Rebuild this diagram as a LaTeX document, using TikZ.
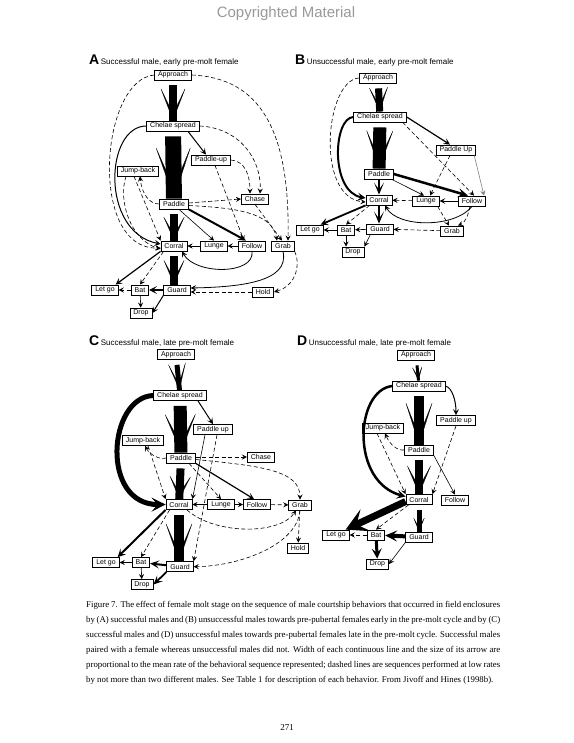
\documentclass[tikz,border=0pt]{standalone}
\usepackage{fontspec}
\setmainfont{Liberation Serif}
\setsansfont{Liberation Sans}
\usepackage{tikz}
\usetikzlibrary{arrows.meta, positioning, calc}
\newcommand\boxfont{\sffamily\fontsize{7}{8}\selectfont}
\newcommand\paneltitle[2]{{\sffamily\bfseries\fontsize{14}{14}\selectfont #1}\hspace{1.5pt}{\sffamily\fontsize{8}{9}\selectfont #2}}
\newcommand\capline[1]{\makebox[414pt][s]{#1}}
\tikzset{
  bx/.style={draw, line width=0.8pt, fill=white, font=\boxfont, inner xsep=3.5pt, inner ysep=1pt, minimum height=10pt},
  ln/.style={line width=0.6pt, -{Stealth[length=4pt 2, width=4pt 2, inset=1.5pt 1]}},
  md/.style={ln, line width=#1},
  md/.default=1pt,
  dl/.style={ln, dash pattern=on 4pt off 2.5pt},
  bar/.style n args={4}{line width=#1, -{Stealth[length=#2, width=#3, inset=#4]}},
  big/.style n args={4}{line width=#1, shorten <=5pt, postaction={draw, line width=0.2pt, -{Stealth[length=#2, width=#3, inset=#4]}}},
  capl/.style={anchor=base west, inner sep=0, font=\fontsize{8.8}{10}\selectfont},
}
\begin{document}
\begin{tikzpicture}[x=1pt, y=-1pt]
  \fill[white] (0,0) rectangle (573,743);
  \useasboundingbox (0,0) rectangle (573,743);

  \node[font=\sffamily\fontsize{15}{16}\selectfont, text=black!40] (hdr) at (286,14) {Copyrighted Material};

  % ---------- A ----------
  \node[anchor=base west, inner sep=0] (tita) at (89,65) {\paneltitle{A}{Successful male, early pre-molt female}};
  \node[bx] (aapp) at (173,75) {Approach};
  \node[bx] (ache) at (173,126) {Chelae spread};
  \node[bx] (apup) at (211,160) {Paddle-up};
  \node[bx] (ajmp) at (138,171) {Jump-back};
  \node[bx] (apad) at (174,204) {Paddle};
  \node[bx] (acha) at (255,199) {Chase};
  \node[bx] (acor) at (174,246) {Corral};
  \node[bx] (alun) at (214,246) {Lunge};
  \node[bx] (afol) at (252,246) {Follow};
  \node[bx] (agrb) at (283,246) {Grab};
  \node[bx] (alet) at (105,290) {Let go};
  \node[bx] (abat) at (140,290) {Bat};
  \node[bx] (agrd) at (177,290) {Guard};
  \node[bx] (ahld) at (263,292) {Hold};
  \node[bx] (adrp) at (141,313) {Drop};

  \draw[big={8pt}{34pt}{26pt}{27pt}] (aapp) -- (ache);
  \draw[big={16pt}{53pt}{36pt}{42pt}] (ache) -- (apad);
  \draw[big={8pt}{25pt}{22pt}{19pt}] (apad) -- (acor);
  \draw[big={8pt}{26pt}{22pt}{20pt}] (acor) -- (acor |- agrd.north);

  \draw[dl] (aapp.west) .. controls (100,80) and (88,250) .. ([yshift=-2pt]acor.west);
  \draw[md] (ache.west) .. controls (105,126) and (100,232) .. ([yshift=2pt]acor.west);
  \draw[dl] ([xshift=-12pt]ajmp.south) .. controls (118,200) and (130,240) .. ([yshift=-3pt]acor.west);
  \draw[dl] ([xshift=-4pt]ajmp.south) -- (acor.north west);
  \draw[dl] (apad.west) .. controls (150,204) and (142,195) .. ([xshift=2pt]ajmp.south);

  \draw[dl] (aapp.east) .. controls (260,78) and (290,130) .. ([xshift=5pt]agrb.north);
  \draw[dl] (ache.east) .. controls (240,128) and (262,160) .. ([xshift=5pt]acha.north);
  \draw[md] ([xshift=15pt]ache.south) -- ([xshift=-5pt]apup.north);
  \draw[dl] (apup.east) .. controls (245,161) and (250,175) .. ([xshift=-5pt]acha.north);
  \draw[dl] ([xshift=4pt]apup.south) -- ([xshift=-8pt]afol.north);
  \draw[dl] ([yshift=1pt]apad.east) -- (acha.west);
  \draw[dl] ([yshift=-1.5pt]apad.east) .. controls (235,208) and (272,212) .. ([xshift=-6pt]agrb.north);
  \draw[dl] (acha.south) -- ([xshift=-1pt]agrb.north);
  \draw[ln] ([xshift=5pt]apad.south) -- (alun.north);
  \draw[bar={2pt}{8pt}{7pt}{3pt}] (apad.south east) -- ([xshift=-6pt]afol.north);
  \draw[ln] (afol) -- (alun);
  \draw[ln] (alun) -- (acor);
  \draw[md=0.8pt] (afol.south) .. controls (255,275) and (195,275) .. ([xshift=8pt]acor.south);
  \draw[md=0.8pt] (agrb.south) .. controls (290,282) and (240,287) .. ([yshift=2pt]agrd.east);
  \draw[dl] (ahld) -- ([yshift=-2pt]agrd.east);
  \draw[dl] (agrb.south east) .. controls (300,262) and (298,285) .. (ahld.east);

  \draw[md=1.2pt] (acor.south west) -- ([xshift=-3pt]alet.north east);
  \draw[dl] ([xshift=3pt]acor.south west) -- (abat.north);
  \draw[bar={1.5pt}{8pt}{8pt}{4pt}] (agrd) -- (abat);
  \draw[dl] (abat) -- (alet);
  \draw[ln] (abat) -- (adrp);
  \draw[md] (agrd.south west) -- (adrp.east);

  % ---------- B ----------
  \node[anchor=base west, inner sep=0] (titb) at (295,65) {\paneltitle{B}{Unsuccessful male, early pre-molt female}};
  \node[bx] (bapp) at (378,78) {Approach};
  \node[bx] (bche) at (380,117) {Chelae spread};
  \node[bx] (bpup) at (456,150) {Paddle Up};
  \node[bx] (bpad) at (379,174) {Paddle};
  \node[bx] (bcor) at (379,200) {Corral};
  \node[bx] (blun) at (426,201) {Lunge};
  \node[bx] (bfol) at (472,201) {Follow};
  \node[bx] (blet) at (310,230) {Let go};
  \node[bx] (bbat) at (346,230) {Bat};
  \node[bx] (bgrd) at (380,229) {Guard};
  \node[bx] (bgrb) at (452,231) {Grab};
  \node[bx] (bdrp) at (353,252) {Drop};

  \draw[big={7pt}{26pt}{20pt}{20pt}] (bapp) -- (bche);
  \draw[big={13pt}{40pt}{28pt}{31pt}] (bche) -- (bpad);
  \draw[bar={2.5pt}{12pt}{10pt}{7pt}] (bpad) -- (bcor);
  \draw[bar={2.5pt}{12pt}{10pt}{7pt}] (bcor) -- (bcor |- bgrd.north);

  \draw[dl] (bapp.west) .. controls (325,80) and (315,198) .. ([yshift=-2pt]bcor.west);
  \draw[md=2pt] (bche.west) .. controls (333,118) and (330,192) .. ([yshift=2pt]bcor.west);
  \draw[md=1.2pt] (bche.east) -- ([xshift=-6pt]bpup.north);
  \draw[dl] ([xshift=-4pt]bche.south east) -- ([xshift=2pt]bfol.north);
  \draw[dl] ([xshift=-6pt]bpup.south) -- ([xshift=4pt]blun.north);
  \draw[ln, gray] ([xshift=-2pt]bpup.south east) -- ([xshift=-2pt]bfol.north east);
  \draw[bar={2.5pt}{10pt}{9pt}{4pt}] (bpad.east) -- ([xshift=-4pt]bfol.north);
  \draw[ln] ([xshift=-2pt]bpad.south east) -- ([xshift=-2pt]blun.north);
  \draw[md=0.8pt] (bfol) -- (blun);
  \draw[dl] (blun) -- (bcor);
  \draw[md=0.8pt] (bfol.south) .. controls (455,228) and (398,228) .. ([xshift=6pt]bcor.south);
  \draw[dl] ([xshift=-2pt]blun.south east) -- ([xshift=-3pt]bgrb.north);
  \draw[dl] ([xshift=-2pt]bfol.south) .. controls (468,215) and (466,222) .. ([xshift=6pt]bgrb.north);
  \draw[dl] (bgrb) -- (bgrd);
  \draw[md=1.8pt] (bcor.south west) -- ([xshift=-3pt]blet.north east);
  \draw[dl] ([xshift=4pt]bcor.south west) -- (bbat.north);
  \draw[ln] (bgrd) -- (bbat);
  \draw[ln] (bbat) -- (blet);
  \draw[ln] (bbat) -- (bbat |- bdrp.north);
  \draw[ln] ([xshift=4pt]bgrd.south west) -- (bdrp.north east);

  % ---------- C ----------
  \node[anchor=base west, inner sep=0] (titc) at (89,345) {\paneltitle{C}{Successful male, late pre-molt female}};
  \node[bx] (capp) at (176,354.5) {Approach};
  \node[bx] (cche) at (180,395.5) {Chelae spread};
  \node[bx] (cpup) at (213,429.5) {Paddle up};
  \node[bx] (cjmp) at (143,440.5) {Jump-back};
  \node[bx] (cpad) at (181,458) {Paddle};
  \node[bx] (ccha) at (261,457) {Chase};
  \node[bx] (ccor) at (179,504.5) {Corral};
  \node[bx] (clun) at (221,504.5) {Lunge};
  \node[bx] (cfol) at (257,504.5) {Follow};
  \node[bx] (cgrb) at (300,505) {Grab};
  \node[bx] (chld) at (298,548) {Hold};
  \node[bx] (clet) at (106,562.5) {Let go};
  \node[bx] (cbat) at (141,562.5) {Bat};
  \node[bx] (cgrd) at (180,566.7) {Guard};
  \node[bx] (cdrp) at (142,584.5) {Drop};

  \draw[big={5pt}{29pt}{19pt}{23pt}] (capp) -- (cche);
  \draw[big={13pt}{40pt}{32pt}{31pt}] (cche) -- (cpad);
  \draw[big={8pt}{24pt}{22pt}{18pt}] (cpad) -- (ccor);
  \draw[big={10pt}{40pt}{28pt}{32pt}] (ccor) -- (ccor |- cgrd.north);

  \draw[bar={5pt}{14pt}{14pt}{6pt}] (cche.west) .. controls (108,397) and (100,505) .. (ccor.west);
  \draw[md] ([xshift=18pt]cche.south) -- (cpup.north);
  \draw[ln] ([xshift=-8pt]cpup.south) -- (ccor.north east);
  \draw[dl] ([xshift=4pt]cpup.south) -- (cgrd.north east);
  \draw[dl] ([xshift=5pt]cjmp.south) -- (ccor.north west);
  \draw[dl] (cpad.west) .. controls (160,460) and (150,455) .. ([xshift=2pt]cjmp.south);
  \draw[dl] ([yshift=1pt]cpad.east) -- (ccha);
  \draw[dl] ([yshift=-1.5pt]cpad.east) .. controls (260,466) and (300,470) .. (cgrb.north);
  \draw[md=1.2pt] (cpad.south east) -- ([xshift=-3pt]cfol.north);
  \draw[dl] ([xshift=8pt]cpad.south) -- (clun.north);
  \draw[ln] (clun) -- (ccor);
  \draw[ln] (clun) -- (cfol);
  \draw[dl] (cfol) -- (cgrb);
  \draw[dl] ([xshift=8pt]ccor.south) .. controls (215,535) and (280,535) .. ([xshift=-4pt]cgrb.south);
  \draw[dl] (cgrb.south) .. controls (297,545) and (240,566) .. (cgrd.east);
  \draw[dl] (cgrb) -- (chld);
  \draw[md=2pt] (ccor.south west) -- ([xshift=-2pt]clet.north east);
  \draw[dl] ([xshift=4pt]ccor.south west) -- (cbat.north);
  \draw[bar={2pt}{9pt}{8pt}{4pt}] (cgrd) -- (cbat);
  \draw[ln] (cbat) -- (clet);
  \draw[ln] (cbat) -- (cdrp);
  \draw[bar={1.8pt}{9pt}{8pt}{4pt}] (cgrd.south west) -- (cdrp.east);

  % ---------- D ----------
  \node[anchor=base west, inner sep=0] (titd) at (297,345) {\paneltitle{D}{Unsuccessful male, late pre-molt female}};
  \node[bx] (dapp) at (416,355) {Approach};
  \node[bx] (dche) at (419,386) {Chelae spread};
  \node[bx] (dpup) at (456,420.5) {Paddle up};
  \node[bx] (djmp) at (383,428) {Jump-back};
  \node[bx] (dpad) at (419,450) {Paddle};
  \node[bx] (dcor) at (419,499.5) {Corral};
  \node[bx] (dfol) at (455,500) {Follow};
  \node[bx] (dlet) at (336,535) {Let go};
  \node[bx] (dbat) at (376,535) {Bat};
  \node[bx] (dgrd) at (419,537) {Guard};
  \node[bx] (ddrp) at (377.5,564) {Drop};

  \draw[big={3pt}{15pt}{11pt}{11pt}] (dapp) -- (dche);
  \draw[big={10pt}{44pt}{28pt}{35pt}] (dche) -- (dpad);
  \draw[big={8pt}{30pt}{25pt}{23pt}] (dpad) -- (dcor);
  \draw[big={5pt}{15pt}{12pt}{11pt}] (dcor) -- (dcor |- dgrd.north);

  \draw[md=2.5pt] (dche.west) .. controls (355,390) and (350,482) .. ([yshift=3pt]dcor.west);
  \draw[md] (dche.east) .. controls (452,388) and (456,400) .. (dpup.north);
  \draw[dl] (dpup.south) -- (dcor.north east);
  \draw[dl] (dpad.west) .. controls (398,451) and (390,445) .. ([xshift=2pt]djmp.south);
  \draw[dl] ([xshift=-6pt]djmp.south) -- (dcor.north west);
  \draw[ln] (dpad.south east) -- (dfol.north);
  \draw[bar={7pt}{22pt}{24pt}{10pt}] ([yshift=-2pt]dcor.west) -- ([xshift=-4pt]dlet.north east);
  \draw[dl] ([xshift=3pt]dcor.south west) -- (dbat.north);
  \draw[bar={4pt}{12pt}{11pt}{5pt}] (dgrd) -- (dbat);
  \draw[dl] (dbat) -- (dlet);
  \draw[bar={3pt}{10pt}{10pt}{4pt}] (dbat) -- (ddrp);
  \draw[ln] (dgrd.south west) -- (ddrp.east);

  % ---------- caption ----------
  \node[capl] (cap1) at (86,607) {\capline{Figure 7. The effect of female molt stage on the sequence of male courtship behaviors that occurred in field enclosures}};
  \node[capl] (cap2) at (86,622) {\capline{by (A) successful males and (B) unsuccessful males towards pre-pubertal females early in the pre-molt cycle and by (C)}};
  \node[capl] (cap3) at (86,637) {\capline{successful males and (D) unsuccessful males towards pre-pubertal females late in the pre-molt cycle. Successful males}};
  \node[capl] (cap4) at (86,652) {\capline{paired with a female whereas unsuccessful males did not. Width of each continuous line and the size of its arrow are}};
  \node[capl] (cap5) at (86,667) {\capline{proportional to the mean rate of the behavioral sequence represented; dashed lines are sequences performed at low rates}};
  \node[capl] (cap6) at (86,682) {by not more than two different males. See Table 1 for description of each behavior. From Jivoff and Hines (1998b).};
  \node[font=\fontsize{9}{10}\selectfont] (pgno) at (287,728) {271};
\end{tikzpicture}
\end{document}
